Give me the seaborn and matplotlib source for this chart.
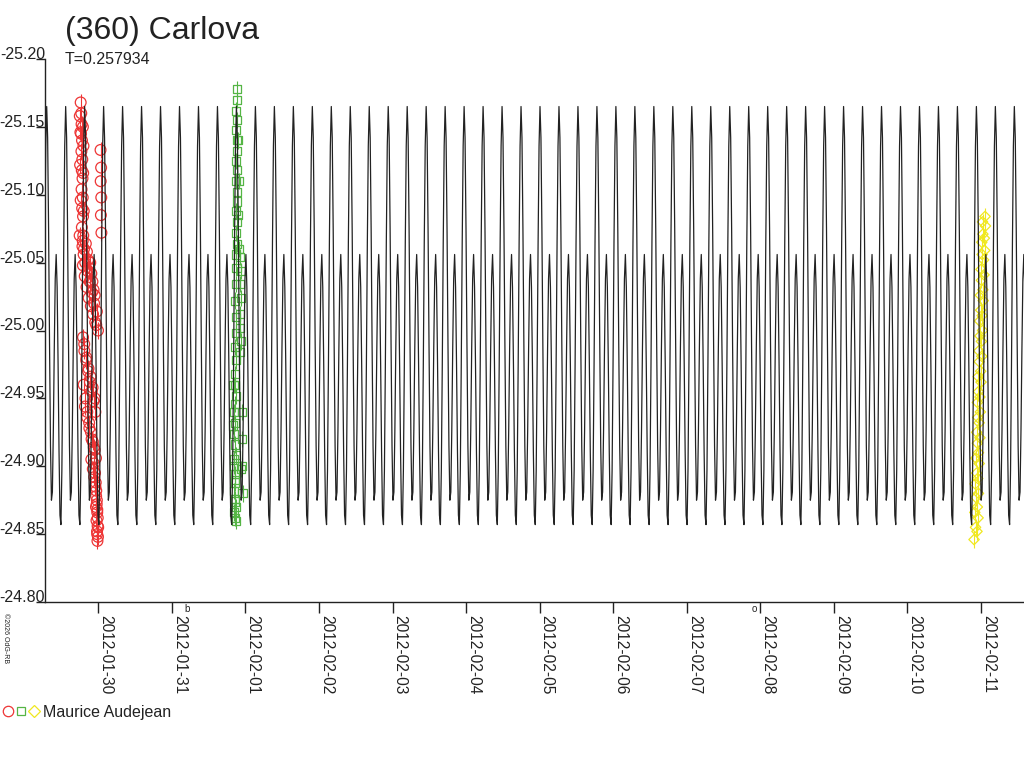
import numpy as np
import pandas as pd
import seaborn as sns
import matplotlib
matplotlib.use("Agg")
import matplotlib.pyplot as plt
import matplotlib.dates as mdates
from matplotlib.lines import Line2D
from matplotlib.legend_handler import HandlerTuple

sns.set_style("ticks")
plt.rcParams['font.family'] = ['Liberation Sans', 'DejaVu Sans']

# all times are days after 2012-01-29 00:00 UT
t0 = pd.Timestamp("2012-01-29")
period = 0.257934
epoch = 0.298
x_range = [0.275, 13.584]

# one rotation of the model curve, magnitudes at phases 0, 0.05, ... 0.95
profile = [-25.165, -25.142, -25.075, -24.990, -24.915, -24.875, -24.881, -24.926,
           -24.987, -25.038, -25.056, -25.032, -24.976, -24.911, -24.864, -24.857,
           -24.897, -24.975, -25.065, -25.136]

# session 1 (red circles)
red_t = [0.760, 0.768, 0.772, 0.765, 0.778, 0.770, 0.782, 0.775, 0.785, 0.772, 0.788, 0.780,
         0.792, 0.776, 0.795, 0.784, 0.800, 0.790,
         0.748, 0.756, 0.790, 0.798, 0.752, 0.794, 0.760, 0.802, 0.746, 0.788,
         0.805, 0.830, 0.845, 0.860, 0.875, 0.890, 0.905, 0.920, 0.935, 0.950, 0.815, 0.840,
         0.868, 0.898, 0.928, 0.958, 0.980, 0.995,
         0.822, 0.852, 0.882, 0.912, 0.942, 0.972, 0.808, 0.838, 0.866, 0.894, 0.922, 0.952,
         0.818, 0.848, 0.878, 0.908, 0.938, 0.968,
         0.792, 0.810, 0.835, 0.860, 0.885, 0.910, 0.935, 0.960, 0.800, 0.825, 0.850, 0.875,
         0.900, 0.925, 0.950,
         0.905, 0.925, 0.945, 0.960, 0.970, 0.978, 0.985, 0.975, 0.990, 0.982, 0.995, 0.988,
         0.940, 0.955, 0.965, 0.972, 0.980, 0.986, 0.992, 0.998, 0.968, 0.984,
         1.030, 1.038, 1.032, 1.040, 1.035, 1.042]
red_m = [-25.168, -25.160, -25.152, -25.145, -25.140, -25.132, -25.126, -25.118, -25.112,
         -25.104, -25.098, -25.090, -25.084, -25.076, -25.070, -25.062, -25.056, -25.048,
         -25.158, -25.146, -25.150, -25.136, -25.122, -25.116, -25.096, -25.088, -25.070,
         -25.066,
         -25.060, -25.064, -25.058, -25.052, -25.046, -25.050, -25.042, -25.036, -25.030,
         -25.026, -25.040, -25.032, -25.024, -25.018, -25.012, -25.006, -25.014, -25.000,
         -25.050, -25.044, -25.036, -25.028, -25.020, -25.004, -24.990, -24.980, -24.972,
         -24.966, -24.958, -24.950, -24.944, -24.936, -24.928, -24.920, -24.914, -24.906,
         -24.995, -24.985, -24.978, -24.970, -24.962, -24.955, -24.948, -24.940, -24.960,
         -24.950, -24.940, -24.932, -24.925, -24.918, -24.912,
         -24.905, -24.898, -24.892, -24.885, -24.878, -24.872, -24.866, -24.860, -24.856,
         -24.852, -24.848, -24.845,
         -24.902, -24.895, -24.888, -24.882, -24.875, -24.868, -24.862, -24.855, -24.870,
         -24.850,
         -25.133, -25.120, -25.110, -25.098, -25.085, -25.072]

# session 2 (green squares)
green_t = [2.880, 2.884, 2.876, 2.886, 2.872, 2.882, 2.888, 2.874, 2.884, 2.870, 2.880, 2.890,
           2.872, 2.882, 2.876, 2.886,
           2.866, 2.878, 2.870, 2.862, 2.874, 2.866, 2.858, 2.870, 2.862, 2.854, 2.866, 2.858,
           2.930, 2.936, 2.926, 2.940, 2.932, 2.924, 2.938, 2.930,
           2.850, 2.862, 2.846, 2.856, 2.868, 2.842, 2.852, 2.864, 2.848, 2.858, 2.870, 2.846,
           2.856, 2.866, 2.852, 2.862,
           2.836, 2.842, 2.948, 2.956, 2.944, 2.960, 2.838, 2.952, 2.900, 2.908, 2.896, 2.912]
green_m = [-25.178, -25.170, -25.162, -25.155, -25.148, -25.140, -25.132, -25.125, -25.118,
           -25.110, -25.102, -25.095, -25.088, -25.080, -25.072, -25.064,
           -25.056, -25.046, -25.034, -25.022, -25.010, -24.998, -24.988, -24.978, -24.968,
           -24.960, -24.952, -24.946,
           -25.054, -25.044, -25.034, -25.024, -25.012, -25.002, -24.992, -24.984,
           -24.940, -24.932, -24.924, -24.916, -24.908, -24.900, -24.894, -24.888, -24.882,
           -24.876, -24.870, -24.866, -24.862, -24.860, -24.874, -24.890,
           -24.930, -24.905, -24.940, -24.920, -24.898, -24.880, -24.960, -24.900,
           -25.140, -25.110, -25.085, -25.060]

# session 3 (yellow diamonds)
yellow_t = [12.905, 12.945, 12.925, 12.960, 12.915, 12.950, 12.930, 12.965, 12.920, 12.955,
            12.940, 12.975, 12.930, 12.965, 12.950, 12.985, 12.940, 12.975, 12.955, 12.990,
            12.950, 12.985, 12.965, 13.000, 12.960, 12.995, 12.975, 13.010, 12.970, 13.005,
            12.985, 13.020, 12.980, 13.015, 12.995, 13.030, 12.990, 13.025, 13.005, 13.040,
            13.000, 13.035, 13.015, 13.050, 13.010, 13.045, 13.025, 13.060, 13.020, 13.055]
yellow_m = [-24.846, -24.852, -24.855, -24.862, -24.866, -24.870, -24.877, -24.880, -24.887,
            -24.891, -24.895, -24.902, -24.906, -24.910, -24.917, -24.921, -24.925, -24.932,
            -24.936, -24.940, -24.947, -24.951, -24.955, -24.962, -24.966, -24.970, -24.977,
            -24.981, -24.985, -24.992, -24.996, -25.000, -25.007, -25.011, -25.015, -25.022,
            -25.026, -25.030, -25.037, -25.041, -25.045, -25.052, -25.056, -25.059, -25.065,
            -25.068, -25.071, -25.077, -25.080, -25.084]

moon_t = [2.206, 9.914]
moon_sym = ["b", "o"]

red = "#ee3535"
green = "#55b545"
yellow = "#f0e820"
ink = "#222222"


def days(offsets):
    return t0 + pd.to_timedelta(np.asarray(offsets), unit="D")


# model curve, the read profile repeated once per period
n_first = int(np.floor((x_range[0] - epoch) / period)) - 1
n_last = int(np.ceil((x_range[1] - epoch) / period)) + 1
curve_t, curve_m = [], []
for n in range(n_first, n_last):
    for k, m in enumerate(profile):
        curve_t.append(epoch + (n + k / len(profile)) * period)
        curve_m.append(m)
curve = pd.DataFrame({"t": days(curve_t), "mag": curve_m})

fig = plt.figure(figsize=(10.24, 7.68), dpi=100)
ax = fig.add_axes([45 / 1024, 1 - 602 / 768, 979 / 1024, 543 / 768])

sessions = [(red_t, red_m, red, "o", 60), (green_t, green_m, green, "s", 34),
            (yellow_t, yellow_m, yellow, "D", 28)]
for st, sm, col, mk, sz in sessions:
    ax.errorbar(days(st), sm, yerr=0.006, fmt="none", ecolor=col, elinewidth=0.8, zorder=2)
    sns.scatterplot(x=days(st), y=sm, marker=mk, s=sz, color=col, edgecolor=col,
                    facecolor="none", linewidth=0.9, ax=ax, zorder=2)

sns.lineplot(data=curve, x="t", y="mag", color=ink, linewidth=0.9, estimator=None,
             sort=False, ax=ax, zorder=3)

ax.set_xlim(days(x_range)[0], days(x_range)[1])
ax.set_ylim(-24.80, -25.20)
ax.set_yticks(np.arange(-25.20, -24.79, 0.05))
ax.yaxis.set_major_formatter(matplotlib.ticker.FormatStrFormatter("%.2f"))
ax.xaxis.set_major_locator(mdates.DayLocator())
ax.xaxis.set_major_formatter(mdates.DateFormatter("%Y-%m-%d"))
ax.set_xlabel("")
ax.set_ylabel("")

sns.despine(ax=ax, top=True, right=True)
for sp in ["left", "bottom"]:
    ax.spines[sp].set_color(ink)
    ax.spines[sp].set_linewidth(1.0)

ax.tick_params(axis="x", direction="out", length=8, width=1, color=ink, pad=1.5,
               labelsize=11.2, labelcolor=ink)
ax.tick_params(axis="y", direction="out", length=6.5, width=1, color=ink, pad=-6.5,
               labelsize=11.5, labelcolor=ink)
for lab in ax.get_xticklabels():
    lab.set_rotation(-90)
    lab.set_ha("left")
    lab.set_va("top")
for lab in ax.get_yticklabels():
    lab.set_va("baseline")

# moon phase marks just under the time axis
for mt, sym in zip(moon_t, moon_sym):
    ax.text(mdates.date2num(days([mt])[0]), -0.004, sym, transform=ax.get_xaxis_transform(),
            ha="center", va="top", fontsize=7, color=ink)

fig.text(65 / 1024, 1 - 39 / 768, "(360) Carlova", fontsize=23, color=ink, va="baseline")
fig.text(65 / 1024, 1 - 64 / 768, "T=%.6f" % period, fontsize=11.5, color=ink, va="baseline")
fig.text(2 / 1024, 1 - 613 / 768, "\u00a92026 OdG-RB", rotation=-90, fontsize=5,
         color=ink, ha="left", va="top")

handles = (Line2D([], [], marker="o", ls="none", mfc="none", mec=red, ms=7.5, mew=0.9),
           Line2D([], [], marker="s", ls="none", mfc="none", mec=green, ms=6, mew=0.9),
           Line2D([], [], marker="D", ls="none", mfc="none", mec=yellow, ms=6, mew=0.9))
fig.legend(handles=[handles], labels=["Maurice Audejean"],
           handler_map={tuple: HandlerTuple(ndivide=None, pad=0.2)},
           loc="center left", bbox_to_anchor=(0.0, 1 - 712 / 768), frameon=False,
           fontsize=11.5, handlelength=2.2, handletextpad=0.3, borderaxespad=0,
           borderpad=0.2, labelcolor=ink)

fig.savefig("out.png", dpi=100)
